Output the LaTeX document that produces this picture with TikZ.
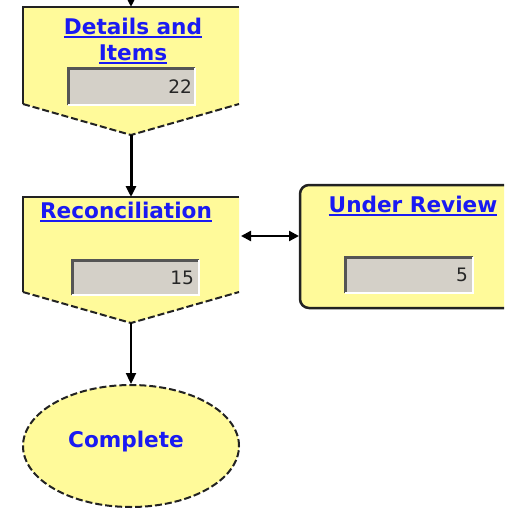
\documentclass[tikz,border=0pt]{standalone}
\usepackage{fontspec}
\setmainfont{DejaVu Sans}
\usetikzlibrary{arrows.meta,shapes.geometric}

\definecolor{boxfill}{HTML}{FFFA9A}
\definecolor{linkblue}{HTML}{1A1AF2}
\definecolor{fieldgray}{HTML}{D4D0C8}
\definecolor{edgecol}{HTML}{222222}
\definecolor{sunken}{HTML}{555555}

% underlined hyperlink-style word with a heavier rule
\newcommand\linkword[1]{\setbox0=\hbox{#1}\leavevmode\rlap{\copy0}\raisebox{-3.8pt}{\rule{\wd0}{2pt}}}

\tikzset{
  anchorbox/.style={inner sep=0pt, outer sep=0pt, draw=none, rectangle},
  title/.style={font=\fontsize{21.6}{27}\selectfont\bfseries, text=linkblue, align=center, inner sep=0pt},
  field/.style={anchorbox, fill=fieldgray},
  fieldnum/.style={font=\fontsize{18.5}{20}\selectfont, text=black!85, anchor=east, inner sep=0pt},
  solidedge/.style={draw=edgecol, line width=2.5pt},
  dashededge/.style={draw=edgecol, line width=2pt, dash pattern=on 7pt off 3pt},
  conn/.style={draw=black, line width=2.3pt, -{Triangle[length=11pt,width=10pt]}},
  connthick/.style={conn, line width=3pt},
  twoway/.style={draw=black, line width=2.3pt, {Triangle[length=10pt,width=10pt]}-{Triangle[length=10pt,width=10pt]}},
}

\begin{document}
\begin{tikzpicture}[x=1pt,y=-1pt]
\clip (0,0) rectangle (504,509);
\fill[white] (0,0) rectangle (504,509);

% ---------- Details and Items ----------
\fill[boxfill] (23,7) -- (239,7) -- (239,104) -- (131,135) -- (23,104) -- cycle;
\draw[solidedge] (23,104) -- (23,7) -- (239,7);
\draw[dashededge] (23,104) -- (131,135) -- (239,104);
\node[anchorbox, minimum width=216pt, minimum height=128pt] (det) at (131,71) {};
\node[title] (detT) at (133,41) {\linkword{Details and}\\[-1pt]\linkword{Items}};
\node[field, minimum width=127pt, minimum height=37pt, anchor=north west] (detF) at (68,68) {};
\draw[sunken, line width=3pt] (detF.south west) -- (detF.north west) -- (detF.north east);
\draw[white, line width=1.2pt] (detF.north east) -- (detF.south east) -- (detF.south west);
\node[fieldnum] (detN) at ([xshift=-3pt]detF.east) {22};

% ---------- Reconciliation ----------
\fill[boxfill] (23,197) -- (239,197) -- (239,292) -- (131,323) -- (23,292) -- cycle;
\draw[solidedge] (23,292) -- (23,197) -- (239,197);
\draw[dashededge] (23,292) -- (131,323) -- (239,292);
\node[anchorbox, minimum width=216pt, minimum height=126pt] (rec) at (131,260) {};
\node[title] (recT) at (126,212) {\linkword{Reconciliation}};
\node[field, minimum width=127pt, minimum height=35pt, anchor=north west] (recF) at (72,260) {};
\draw[sunken, line width=3pt] (recF.south west) -- (recF.north west) -- (recF.north east);
\draw[white, line width=1.2pt] (recF.north east) -- (recF.south east) -- (recF.south west);
\node[fieldnum] (recN) at ([xshift=-5pt]recF.east) {15};

% ---------- Under Review ----------
\node[anchorbox, minimum width=230pt, minimum height=123pt, anchor=north west,
      fill=boxfill, draw=edgecol, line width=2.5pt, rounded corners=9pt] (rev) at (300,185) {};
\node[title] (revT) at (413,206) {\linkword{Under Review}};
\node[field, minimum width=128pt, minimum height=36pt, anchor=north west] (revF) at (345,257) {};
\draw[sunken, line width=3pt] (revF.south west) -- (revF.north west) -- (revF.north east);
\draw[white, line width=1.2pt] (revF.north east) -- (revF.south east) -- (revF.south west);
\node[fieldnum] (revN) at ([xshift=-5pt]revF.east) {5};

% ---------- Complete ----------
\node[ellipse, inner sep=0pt, minimum width=216pt, minimum height=122pt,
      fill=boxfill, dashededge] (comp) at (131,446) {};
\node[title] (compT) at (126,442) {Complete};

% ---------- connectors ----------
\coordinate (entry) at (131,-4);
\draw[connthick] (entry) -- (det.north);
\draw[connthick] (det.south) -- (rec.north);
\draw[conn] (rec.south) -- (comp.north);
\draw[twoway] ([xshift=2pt]rec.east |- 0,236) -- ([xshift=-1pt]rev.west |- 0,236);
\end{tikzpicture}
\end{document}
